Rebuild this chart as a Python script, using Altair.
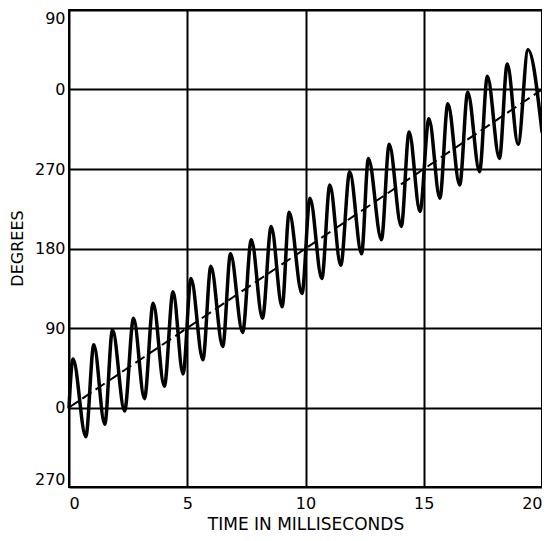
import altair as alt
import pandas as pd

# Oscillating phase trace: alternating extrema (ms, degrees, unwrapped)
wave_t = [0.0, 0.17, 0.71, 1.05, 1.51, 1.84, 2.35, 2.73, 3.19, 3.56, 4.03, 4.40, 4.82,
          5.16, 5.66, 6.00, 6.50, 6.83, 7.34, 7.71, 8.18, 8.55, 9.01, 9.31, 9.85,
          10.19, 10.69, 11.03, 11.49, 11.87, 12.37, 12.66, 13.21, 13.54, 14.05, 14.38,
          14.84, 15.22, 15.68, 16.02, 16.52, 16.86, 17.36, 17.69, 18.20, 18.53, 18.99,
          19.41, 20.0]
wave_deg = [0, 55, -33, 71, -19, 88, -4, 101, 10, 118, 24, 131, 38,
            146, 54, 160, 69, 174, 85, 190, 101, 205, 114, 221, 129,
            237, 146, 252, 161, 267, 174, 282, 190, 298, 205, 312,
            222, 327, 237, 344, 252, 357, 267, 375, 282, 389, 298,
            405, 312]

# Dashed mean-phase line
trend_t = [0, 20]
trend_deg = [0, 360]

x_ticks = [0, 5, 10, 15, 20]
y_ticks = [-90, 0, 90, 180, 270, 360, 450]
y_tick_labels = ["270", "0", "90", "180", "270", "0", "90"]

wave_df = pd.DataFrame({"t": wave_t, "deg": wave_deg})
trend_df = pd.DataFrame({"t": trend_t, "deg": trend_deg})

label_expr = "[" + ",".join("'" + s + "'" for s in y_tick_labels) + "][round((datum.value + 90) / 90)]"

FONT = "DejaVu Sans"

x_enc = alt.X(
    "t:Q",
    scale=alt.Scale(domain=[0, 20], nice=False, zero=False),
    axis=alt.Axis(
        values=x_ticks,
        title="TIME IN MILLISECONDS",
        grid=True,
        gridColor="#000000",
        gridWidth=2,
        gridOpacity=1,
        domain=False,
        ticks=False,
        labelFlush=True,
        labelFlushOffset=0,
        labelPadding=8,
        labelFont=FONT,
        labelFontSize=16,
        labelColor="#000000",
        titleFont=FONT,
        titleFontSize=17,
        titleFontWeight="normal",
        titleColor="#000000",
        titleBaseline="alphabetic",
        titleY=42,
    ),
)

y_enc = alt.Y(
    "deg:Q",
    scale=alt.Scale(domain=[-90, 450], nice=False, zero=False),
    axis=alt.Axis(
        values=y_ticks,
        labelExpr=label_expr,
        title="DEGREES",
        grid=True,
        gridColor="#000000",
        gridWidth=2,
        gridOpacity=1,
        domain=False,
        ticks=False,
        labelFlush=True,
        labelFlushOffset=0,
        labelPadding=4,
        labelFont=FONT,
        labelFontSize=16,
        labelColor="#000000",
        titleFont=FONT,
        titleFontSize=16,
        titleFontWeight="normal",
        titleColor="#000000",
        titleAngle=270,
        titleAlign="center",
        titleBaseline="alphabetic",
        titleX=-47,
        titleY=238,
    ),
)

wave = alt.Chart(wave_df).mark_line(
    color="#000000", strokeWidth=3.5, interpolate="monotone",
    strokeCap="round", strokeJoin="round"
).encode(x=x_enc, y=y_enc, order="t:Q")

trend = alt.Chart(trend_df).mark_line(
    color="#000000", strokeWidth=2, strokeDash=[11, 5]
).encode(x="t:Q", y="deg:Q")

chart = (
    alt.layer(trend, wave)
    .properties(
        width=473,
        height=477,
        autosize=alt.AutoSizeParams(type="none"),
        padding={"left": 61, "top": 2, "right": 0, "bottom": 46},
        background="#ffffff",
    )
    .configure_view(stroke="#000000", strokeWidth=2)
)

chart.save("out.html", embed_options={"renderer": "svg", "actions": False})
